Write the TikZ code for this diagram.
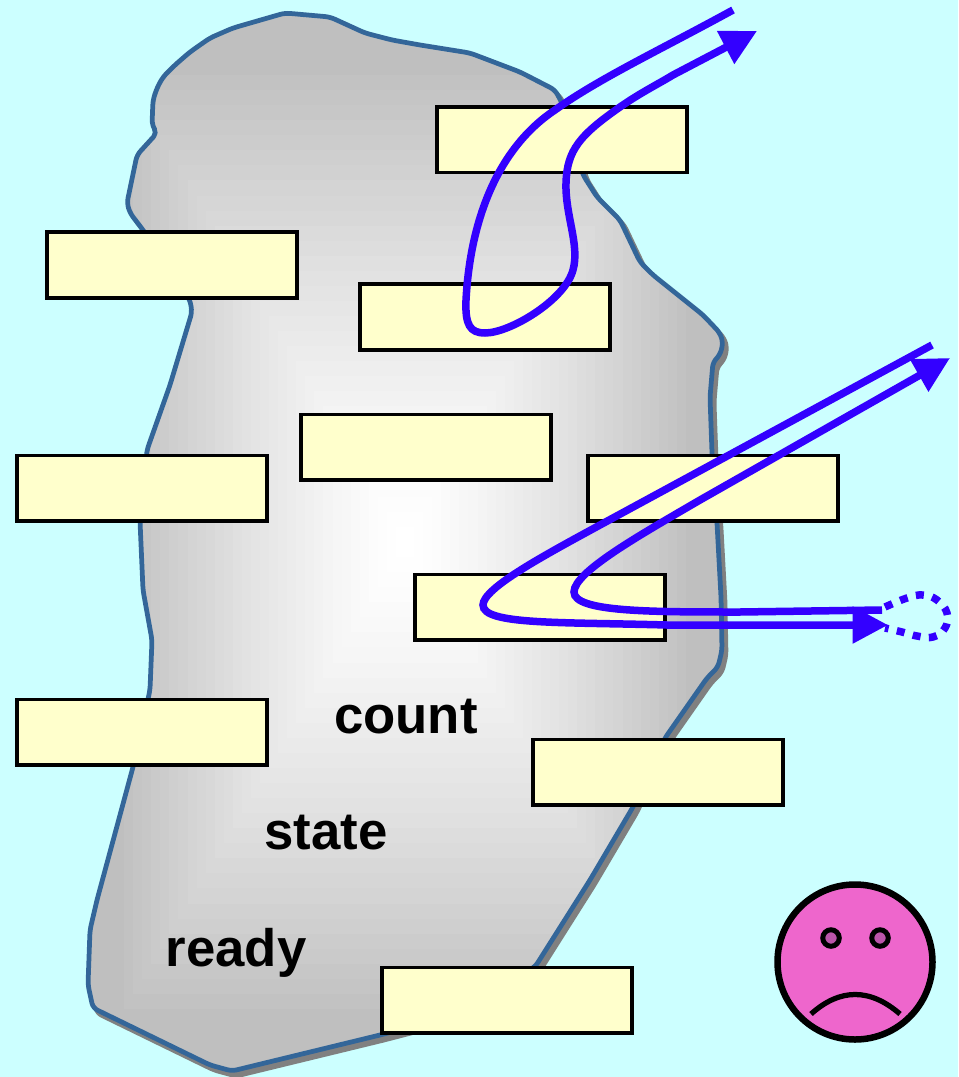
\documentclass[tikz,border=0pt]{standalone}
\usepackage{fontspec}
\setmainfont{Liberation Sans}
\usetikzlibrary{arrows.meta}
\definecolor{skyback}{HTML}{CCFFFF}
\definecolor{blobedge}{HTML}{336699}
\definecolor{boxfill}{HTML}{FFFFCC}
\definecolor{flowblue}{HTML}{3300FF}
\definecolor{facepink}{HTML}{EE66CC}
\definecolor{eyepink}{HTML}{BB55AA}
\newcommand{\blobpath}{
   (285,13) -- (330,17) -- (365,33) -- (392,40) -- (420,45) -- (470,53)
   -- (520,72) -- (555,90) -- (562,103) -- (583,175) -- (597,197) -- (620,220)
   -- (640,262) -- (653,275) -- (703,315) -- (720,333) -- (723,343) -- (720,355)
   -- (713,362) -- (710,397) -- (712,453) -- (717,523) -- (721,597) -- (722,650)
   -- (718,667) -- (707,678) -- (665,738) -- (633,807) -- (590,880) -- (535,967) -- (430,1022)
   -- (380,1035) -- (232,1071) -- (210,1065) -- (93,1008) -- (88,985) -- (90,930) -- (97,900)
   -- (133,767) -- (150,690) -- (152,640) -- (143,590) -- (140,521) -- (147,450)
   -- (170,385) -- (192,312) -- (190,300) -- (143,230) -- (130,213) -- (127,203)
   -- (137,155) -- (157,133) -- (152,125) -- (153,100) -- (157,88) -- (163,77) -- (175,65)
   -- (190,52) -- (210,38) -- (233,28) -- cycle}

\begin{document}
\begin{tikzpicture}[x=0.2mm,y=-0.2mm,
   namebox/.style={draw=black,fill=boxfill,line width=0.7mm,minimum width=50mm,minimum height=13.1mm,inner sep=0pt},
   flow/.style={draw=flowblue,line width=1.5mm},
   flowhead/.style={-{Triangle[length=7.1mm,width=7.1mm,flowblue]}},
   word/.style={font=\fontsize{30}{36}\selectfont\bfseries,inner sep=0pt,anchor=base}]
   \useasboundingbox (0,0) rectangle (958,1077);
   \fill[skyback] (0,0) rectangle (958,1077);

   % the blob
   \begin{scope}[shift={(4,5)}]
    \fill[gray] \blobpath;
    \draw[gray,line width=0.95mm,rounded corners=1mm,line join=round] \blobpath;
   \end{scope}
   \fill[black!25,rounded corners=1mm] \blobpath;
   \begin{scope}
    \clip[rounded corners=1mm] \blobpath;
    \foreach \k in {0,...,31} {
     \pgfmathsetmacro{\rx}{290*(1-\k/32)}
     \pgfmathsetmacro{\ry}{482*(1-\k/32)}
     \pgfmathsetmacro{\shadeval}{25*(1-\k/31)^1.3}
     \fill[black!\shadeval] (405-\rx,542-\ry) rectangle (405+\rx,542+\ry);
    }
   \end{scope}
   \draw[blobedge,line width=0.95mm,rounded corners=1mm,line join=round] \blobpath;

   % the boxes
   \node[namebox] (boxa) at (562,140) {};
   \node[namebox] (boxb) at (172,265) {};
   \node[namebox] (boxc) at (485,317) {};
   \node[namebox] (boxd) at (426,447) {};
   \node[namebox] (boxe) at (142,488) {};
   \node[namebox] (boxf) at (713,488) {};
   \node[namebox] (boxg) at (540,607) {};
   \node[namebox] (boxh) at (142,732) {};
   \node[namebox] (boxi) at (658,772) {};
   \node[namebox] (boxj) at (507,1000) {};

   % the words
   \node[word] (count) at (406,733) {count};
   \node[word] (state) at (326,849) {state};
   \node[word] (ready) at (236,966) {ready};

   % the flows
   \draw[flow,flowhead] (733,10) .. controls (660,50) and (600,78) .. (555,110)
    .. controls (495,150) and (470,225) .. (466,300)
    .. controls (465,325) and (470,333) .. (485,333)
    .. controls (510,333) and (565,300) .. (573,270)
    .. controls (580,245) and (565,215) .. (566,183)
    .. controls (567,150) and (580,135) .. (620,107)
    .. controls (640,93) and (660,83) .. (673,75) -- (757,31);
   \draw[flow,flowhead] (932,345) -- (600,525)
    .. controls (545,555) and (483,588) .. (483,605)
    .. controls (483,625) and (560,622) .. (667,625) -- (888,625);
   \draw[flow,flowhead] (882,610) -- (740,612)
    .. controls (650,612) and (574,612) .. (574,592)
    .. controls (574,572) and (640,535) .. (700,500) -- (950,358);
   \draw[flowblue,line width=1.5mm,dash pattern=on 1.6mm off 1.7mm] plot[smooth,tension=0.7] coordinates
    {(885,607) (907,598) (923,595) (937,600) (947,613) (945,628) (933,637) (917,636) (902,632) (885,628)};

   % the face
   \node[circle,draw=black,fill=facepink,line width=1.3mm,minimum size=31mm,inner sep=0pt] (face) at (855,962) {};
   \node[circle,draw=black,fill=eyepink,line width=1mm,minimum size=3.3mm,inner sep=0pt] (lefteye) at (831,938) {};
   \node[circle,draw=black,fill=eyepink,line width=1mm,minimum size=3.3mm,inner sep=0pt] (righteye) at (880,938) {};
   \draw[black,line width=1.05mm] (811,1014) .. controls (840,988) and (870,988) .. (900,1014);
\end{tikzpicture}
\end{document}
